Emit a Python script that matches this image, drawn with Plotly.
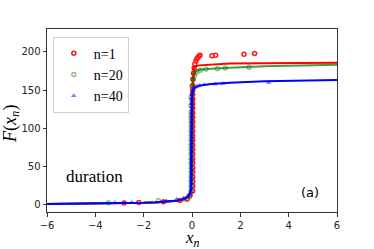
import plotly.graph_objects as go

# ---------------- data ----------------
red_x = [-2.81, -2.2, -1.18, -0.5, -0.2, -0.08,
         0.03, 0.03, 0.03, 0.03, 0.03, 0.03, 0.03, 0.03, 0.03, 0.03, 0.03, 0.03,
         0.03, 0.03, 0.03, 0.03, 0.03, 0.03, 0.03, 0.03, 0.03, 0.03, 0.03, 0.03,
         0.04, 0.06, 0.09, 0.12, 0.16, 0.2, 0.25, 0.3, 0.33,
         0.83, 0.98, 2.15, 2.59]
red_y = [1.7, 2.6, 3.5, 5, 7, 12,
         18, 24, 30, 36, 42, 48, 54, 60, 66, 72, 78, 84,
         90, 96, 102, 108, 114, 120, 126, 132, 138, 144, 150, 156,
         164, 172, 179, 184, 188, 191, 193, 194.5, 195.5,
         195, 195.5, 197, 198]

green_x = [-3.46, -1.39, -0.3, -0.1,
           -0.04, -0.04, -0.04, -0.04, -0.04, -0.04, -0.04, -0.04, -0.04, -0.04,
           -0.04, -0.04, -0.04, -0.04, -0.04, -0.04, -0.04, -0.04, -0.04, -0.04,
           0.0, 0.04, 0.1, 0.15, 0.25, 0.35, 0.58, 1.05, 1.38, 2.36]
green_y = [2.2, 4.9, 7, 10,
           18, 24, 30, 36, 42, 48, 54, 60, 66, 72,
           78, 84, 90, 96, 102, 108, 114, 120, 130, 140,
           155, 164, 169, 172, 174.5, 176, 177.5, 178, 179, 180]

blue_x = [-3.18, -2.49, -1.05, -0.63, -0.35, -0.2, -0.1,
          -0.02, -0.02, -0.02, -0.02, -0.02, -0.02, -0.02, -0.02, -0.02, -0.02,
          -0.02, -0.02, -0.02, -0.02, -0.02, -0.02, -0.02, -0.02, -0.02, -0.02,
          -0.02, -0.02, -0.02, -0.02, -0.02, -0.02, -0.02, -0.02, -0.02, -0.02,
          -0.02, -0.02, -0.02,
          0.0, 0.04, 0.1, 0.2, 0.3, 0.51, 0.96, 1.28, 3.17]
blue_y = [2.2, 2.6, 4.4, 6.6, 8, 10, 13,
          16, 20, 24, 28, 32, 36, 40, 44, 48, 52,
          56, 60, 64, 68, 72, 76, 80, 84, 88, 92,
          96, 100, 104, 108, 112, 116, 120, 124, 128, 132,
          136, 140, 144,
          147, 150, 153, 155, 156, 157, 158, 158.6, 160]

# fitted curves
fit_red_x = [-6, -5, -4, -3, -2, -1.5, -1, -0.6, -0.4, -0.2, -0.1, -0.05, 0.0, 0.02, 0.05,
             0.08, 0.12, 0.3, 0.8, 1.57, 3, 6]
fit_red_y = [0.5, 0.7, 1.0, 1.4, 2.0, 2.6, 3.4, 4.6, 5.8, 8.5, 12, 16, 40, 120, 170,
             179, 181, 182.3, 183.5, 184.6, 185.1, 185.6]

fit_green_x = [-6, -5, -4, -3, -2, -1.5, -1, -0.6, -0.4, -0.2, -0.1, -0.05, -0.02, 0.0, 0.03,
               0.07, 0.12, 0.3, 0.8, 1.57, 3, 6]
fit_green_y = [0.5, 0.7, 1.0, 1.4, 2.0, 2.6, 3.4, 4.7, 6.0, 9.0, 13, 18, 50, 130, 162,
               170, 174, 176.5, 178, 179.3, 181, 183]

fit_blue_x = [-6, -5, -4, -3, -2, -1.5, -1, -0.6, -0.4, -0.2, -0.1, -0.05, -0.04, -0.03, 0.0,
              0.04, 0.1, 0.33, 0.8, 1.57, 3, 6]
fit_blue_y = [0.5, 0.7, 1.0, 1.4, 2.0, 2.7, 3.6, 5.0, 6.5, 9.6, 13, 20, 60, 120, 143,
              150, 153, 156, 158, 159.5, 161.5, 163]

series_names = ["n=1", "n=20", "n=40"]
x_ticks = [-6, -4, -2, 0, 2, 4, 6]
y_ticks = [0, 50, 100, 150, 200]

# ---------------- figure ----------------
RED = "#ff0000"
GREEN = "#008000"
BLUE = "#0000ff"
SERIF = "Liberation Serif, Times New Roman, serif"
SANS = "DejaVu Sans, sans-serif"

fig = go.Figure()

# fit lines (no legend)
fig.add_trace(go.Scatter(x=fit_red_x, y=fit_red_y, mode="lines",
                         line=dict(color=RED, width=2), showlegend=False, hoverinfo="skip"))
fig.add_trace(go.Scatter(x=fit_green_x, y=fit_green_y, mode="lines",
                         line=dict(color=GREEN, width=2), opacity=0.75,
                         showlegend=False, hoverinfo="skip"))

# markers
fig.add_trace(go.Scatter(x=red_x, y=red_y, mode="markers", name=series_names[0],
                         marker=dict(symbol="circle-open", color=RED, size=4,
                                     line=dict(width=1.5, color=RED)), opacity=0.9))
fig.add_trace(go.Scatter(x=green_x, y=green_y, mode="markers", name=series_names[1],
                         marker=dict(symbol="circle-open", color=GREEN, size=4,
                                     line=dict(width=1.3, color=GREEN)), opacity=0.5))

fig.add_trace(go.Scatter(x=fit_blue_x, y=fit_blue_y, mode="lines",
                         line=dict(color=BLUE, width=2), showlegend=False, hoverinfo="skip"))
fig.add_trace(go.Scatter(x=blue_x, y=blue_y, mode="markers", name=series_names[2],
                         marker=dict(symbol="triangle-up", color=BLUE, size=5,
                                     line=dict(width=0)), opacity=0.5))

fig.add_annotation(x=-4.03, y=36, text="duration", showarrow=False,
                   font=dict(family=SERIF, size=17, color="black"))
fig.add_annotation(x=4.87, y=16, text="(a)", showarrow=False,
                   font=dict(family=SANS, size=13, color="black"))

# axis titles
fig.add_annotation(xref="paper", yref="paper", x=-0.125, y=0.48, xanchor="center",
                   yanchor="middle", textangle=-90, showarrow=False,
                   text="<i>F</i>(<i>x</i><sub><i>n</i></sub>)",
                   font=dict(family=SERIF, size=18, color="black"))
fig.add_annotation(xref="paper", yref="paper", x=0.5, y=-0.15, xanchor="center",
                   yanchor="middle", showarrow=False,
                   text="<i>x</i><sub><i>n</i></sub>",
                   font=dict(family=SERIF, size=17, color="black"))

axis_common = dict(showgrid=False, zeroline=False, showline=True, linecolor="#333333",
                   linewidth=1, mirror=True, ticks="outside", ticklen=3.5, tickwidth=1,
                   tickcolor="#333333", automargin=False,
                   tickfont=dict(family=SANS, size=10, color="#222222"))

fig.update_layout(
    width=374, height=249,
    margin=dict(l=47, r=37, t=29, b=37),
    paper_bgcolor="white", plot_bgcolor="white",
    xaxis=dict(range=[-6, 6], tickvals=x_ticks,
               ticktext=[str(v).replace("-", "\u2212") for v in x_ticks], **axis_common),
    yaxis=dict(range=[-10, 230], tickvals=y_ticks, **axis_common),
    legend=dict(x=0.02, y=0.958, xanchor="left", yanchor="top",
                bgcolor="white", bordercolor="#d0d0d0", borderwidth=1,
                font=dict(family=SERIF, size=14, color="black"),
                tracegroupgap=0, itemsizing="trace"),
    showlegend=True,
)

fig.write_html("out.html", config={"displayModeBar": False},
               post_script="document.body.style.margin='0px';")
